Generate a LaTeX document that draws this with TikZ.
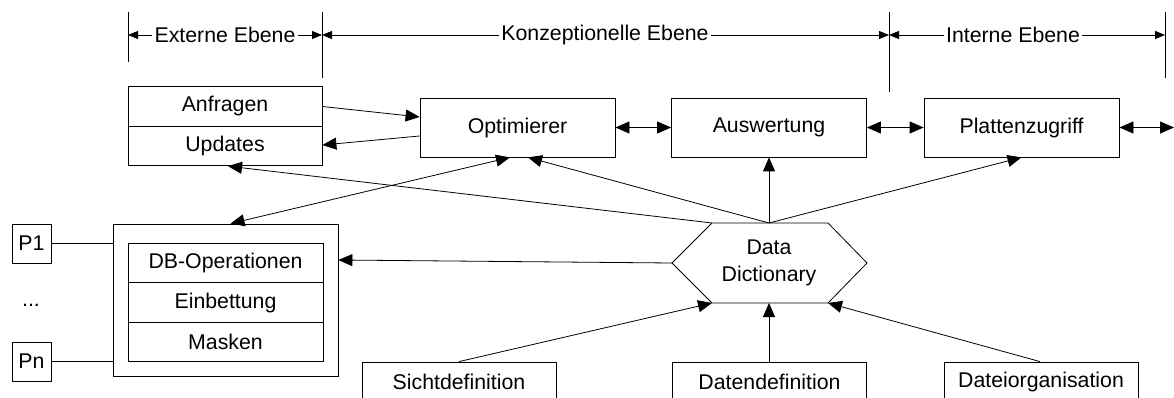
\documentclass[tikz,border=0pt]{standalone}
\usepackage{fontspec}
\setmainfont{Liberation Sans}
\usetikzlibrary{arrows.meta}
\begin{document}
\begin{tikzpicture}[x=1pt,y=-1pt,
  line width=0.8pt,
  every node/.style={font=\fontsize{21.3}{26.5}\selectfont, inner sep=0pt},
  box/.style={draw, minimum width=194pt, minimum height=39.5pt, align=center},
  bigbox/.style={draw, minimum width=195pt, minimum height=59pt},
  tip/.style={-{Triangle[length=14pt,width=12pt]}},
  dtip/.style={{Triangle[length=14pt,width=12pt]}-{Triangle[length=14pt,width=12pt]}},
  dim/.style={-{Triangle[length=10pt,width=8pt]}},
  lvl/.style={fill=white, inner sep=2pt}]
\useasboundingbox (0,0) rectangle (1174,398);
\clip (0,0) rectangle (1174,398);

% level markers
\coordinate (m1t) at (128,12);  \coordinate (m1b) at (128,62);
\coordinate (m2t) at (322,12);  \coordinate (m2b) at (322,78);
\coordinate (m3t) at (889,12);  \coordinate (m3b) at (889,92);
\coordinate (m4t) at (1165,12); \coordinate (m4b) at (1165,78);
\draw (m1t) -- (m1b); \draw (m2t) -- (m2b); \draw (m3t) -- (m3b); \draw (m4t) -- (m4b);
\coordinate (d1) at (128,35); \coordinate (d2) at (322,35);
\coordinate (d3) at (889,35); \coordinate (d4) at (1165,35);
\node[lvl] (ext) at (225,35) {Externe Ebene};
\node[lvl] (konz) at (605,35) {Konzeptionelle Ebene};
\node[lvl] (int) at (1013,35) {Interne Ebene};
\draw[dim] (ext.west) -- (d1);
\draw[dim] (ext.east) -- (d2);
\draw[dim] (konz.west) -- (d2);
\draw[dim] (konz.east) -- (d3);
\draw[dim] (int.west) -- (d3);
\draw[dim] (int.east) -- (d4);

% top row
\node[box] (anf) at (225,106.5) {Anfragen};
\node[box] (upd) at (225,146) {Updates};
\node[bigbox] (opt) at (517.5,127.5) {Optimierer};
\node[bigbox] (ausw) at (769,127.5) {Auswertung};
\node[bigbox] (platt) at (1021.5,127.5) {Plattenzugriff};
\coordinate (rend) at (1174,127.5);

\draw[tip] (anf.east) -- ([yshift=10.5pt]opt.west);
\draw[tip] ([yshift=-8.5pt]opt.west) -- ([yshift=1pt]upd.east);
\draw[dtip] (opt.east) -- (ausw.west);
\draw[dtip] (ausw.east) -- (platt.west);
\draw[dtip] (platt.east) -- (rend);

% Data Dictionary hexagon
\coordinate (ddl) at (672,263);
\coordinate (ddtl) at (712,223);
\coordinate (ddtr) at (828,223);
\coordinate (ddr) at (867,263);
\coordinate (ddbr) at (828,303);
\coordinate (ddbl) at (712,303);
\coordinate (ddt) at (769,223);
\coordinate (ddb) at (769,303);
\draw (ddl) -- (ddtl) -- (ddtr) -- (ddr) -- (ddbr) -- (ddbl) -- cycle;
\node[align=center] (dd) at (769,263) {Data\\Dictionary};

% program side
\node[draw, minimum width=225pt, minimum height=152pt] (prog) at (225.5,300) {};
\node[box, minimum width=195pt] (dbop) at (225.5,263) {DB-Operationen};
\node[box, minimum width=195pt] (einb) at (225.5,302.5) {Einbettung};
\node[box, minimum width=195pt] (mask) at (225.5,342) {Masken};
\node[draw, minimum width=39pt, minimum height=39pt] (p1) at (31.5,243.5) {P1};
\node[draw, minimum width=39pt, minimum height=39pt] (pn) at (31.5,361.5) {Pn};
\node (dots) at (31,305) {...};
\draw (p1.east) -- (p1.east -| prog.west);
\draw (pn.east) -- (pn.east -| prog.west);

% bottom boxes
\node[box, minimum height=40pt] (sicht) at (459,382) {Sichtdefinition};
\node[box, minimum height=40pt] (daten) at (769.5,382) {Datendefinition};
\node[box, minimum height=40pt] (datei) at (1041,382) {Dateiorganisation};

% connectors
\draw[tip] (ddtl) -- ([xshift=3pt]upd.south);
\draw[tip] (ddt) -- ([xshift=10.5pt]opt.south);
\draw[tip] (ddt) -- (ausw.south);
\draw[tip] (ddt) -- (platt.south);
\draw[dtip] ([xshift=5pt]prog.north) -- ([xshift=-7.5pt]opt.south);
\draw[tip] (ddl) -- ([yshift=40pt]prog.east);
\draw[tip] (sicht.north) -- (ddbl);
\draw[tip] (daten.north -| ddb) -- (ddb);
\draw[tip] ([xshift=-1pt]datei.north) -- (ddbr);
\end{tikzpicture}
\end{document}
